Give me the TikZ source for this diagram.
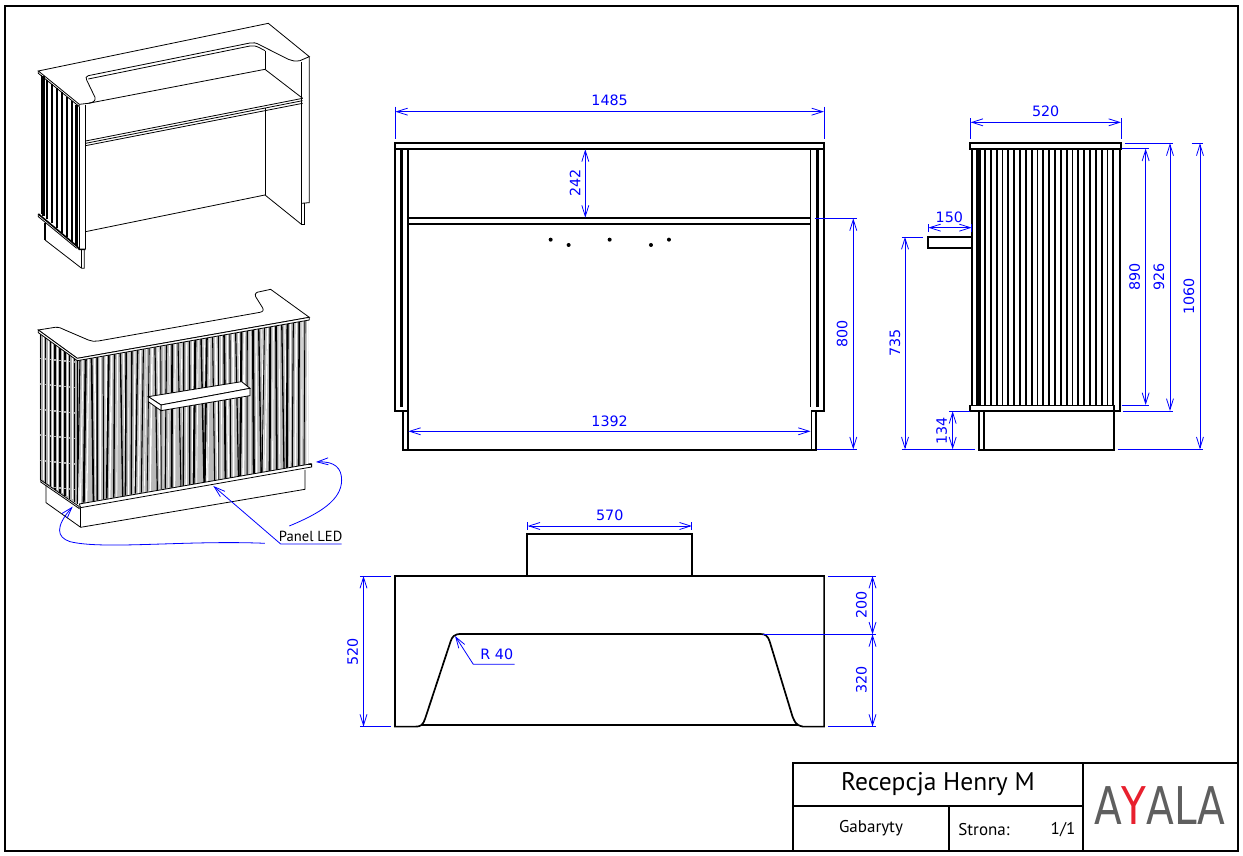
\documentclass[tikz,border=0pt]{standalone}
\usepackage{fontspec}
\setmainfont{DejaVu Sans}
\newfontfamily\labelfont{PT Sans}
\usetikzlibrary{arrows.meta}
\definecolor{logogray}{RGB}{95,95,95}
\definecolor{logored}{RGB}{232,32,46}
\tikzset{
  frameline/.style={line width=2pt},
  partline/.style={line width=1.7pt},
  isoline/.style={line width=.8pt},
  extline/.style={blue,line width=.8pt},
  dimline/.style={blue,line width=.8pt,{Straight Barb[length=11pt,width=7pt]}-{Straight Barb[length=11pt,width=7pt]}},
  leader/.style={blue,line width=.8pt,-{Straight Barb[length=11pt,width=7pt]}},
  dimtext/.style={blue,font=\fontsize{14.3}{14.3}\selectfont,inner sep=0pt},
  sidetext/.style={dimtext,rotate=90},
  slat/.style={line cap=butt}
}
\begin{document}
\begin{tikzpicture}[x=1pt,y=-1pt]
  \useasboundingbox[fill=white] (0,0) rectangle (1243,856);

  % Ramka i tabelka
  \draw[frameline] (5,6) rectangle (1237.5,850.5);
  \draw[frameline] (793,850.5) -- (793,763) -- (1237.5,763);
  \draw[frameline] (793,806) -- (1083,806);
  \draw[frameline] (1083,763) -- (1083,850.5);
  \draw[frameline] (949,806) -- (949,850.5);
  \node[font=\labelfont\fontsize{25.5}{25.5}\selectfont] (title) at (938,784) {Recepcja Henry M};
  \node[font=\labelfont\fontsize{17}{17}\selectfont] (subtitle) at (871,828.5) {Gabaryty};
  \node[font=\labelfont\fontsize{17}{17}\selectfont] (page) at (984,829.5) {Strona:};
  \node[font=\labelfont\fontsize{17}{17}\selectfont] (pagenr) at (1063,829.5) {1/1};
  \node[font=\fontsize{52}{52}\selectfont,xscale=.78,transform shape,text=logogray,inner sep=0pt] (logo) at (1160,806) {A\textcolor{logored}{Y}ALA};

  % Widok z przodu
  \begin{scope}[shift={(380,90)},xscale=.3333,yscale=.3333]
    \draw[partline] (46,158) rectangle (1332,178);
    \draw[partline] (46,178) -- (46,963) -- (82,963);
    \draw[partline] (85,178) -- (85,1080);
    \draw[line width=2.8pt] (65,178) -- (65,950);
    \draw[partline] (70,963) -- (70,1080) -- (1308,1080) -- (1308,963);
    \draw[partline] (85,383) -- (1292,383);
    \draw[partline] (85,401) -- (1292,401);
    \draw[partline] (1292,178) -- (1292,950);
    \draw[line width=2.8pt] (1312,178) -- (1312,950);
    \draw[partline] (1332,178) -- (1332,963) -- (1295,963) -- (1295,1080);
    \foreach \x/\y in {512/449,566/465,689/449,813/465,867/449}
      \fill (\x,\y) circle (6);
    % Wymiary
    \draw[extline] (46,50) -- (46,148);
    \draw[extline] (1332,50) -- (1332,148);
    \draw[dimline] (46,65) -- (1332,65);
    \node[dimtext] (d1485) at (689,31) {1485};
    \draw[dimline] (85,1024) -- (1292,1024);
    \node[dimtext] (d1392) at (689,993) {1392};
    \draw[dimline] (616,178) -- (616,383);
    \node[sidetext] (d242) at (585,280) {242};
    \draw[extline] (1305,385) -- (1430,385);
    \draw[extline] (1310,1078) -- (1430,1078);
    \draw[dimline] (1420,385) -- (1420,1078);
    \node[sidetext] (d800) at (1387,733) {800};
  \end{scope}

  % Widok z boku
  \begin{scope}[shift={(890,90)},xscale=.3333,yscale=.3333]
    \draw[partline] (240,160) rectangle (693,176);
    \draw[partline] (245,176) -- (245,947);
    \draw[partline] (690,176) -- (690,963) -- (672,963);
    \fill (258,176) rectangle (272,947);
    \foreach \x in {285,302.5,...,672}
      \draw[line width=1.7pt] (\x,176) -- (\x,947);
    \draw[partline] (240,947) rectangle (672,963);
    \draw[partline] (266,963) -- (266,1080) -- (672,1080) -- (672,963);
    \draw[partline] (283,963) -- (283,1080);
    \draw[partline] (245,441) -- (113,441) -- (113,473) -- (245,473);
    % Wymiary
    \draw[extline] (242,85) -- (242,148);
    \draw[extline] (693,85) -- (693,148);
    \draw[dimline] (242,97) -- (693,97);
    \node[dimtext] (d520a) at (467,65) {520};
    \draw[extline] (115,403) -- (115,425);
    \draw[extline] (245,403) -- (245,425);
    \draw[dimline] (115,413) -- (245,413);
    \node[dimtext] (d150) at (178,382) {150};
    \draw[extline] (35,441) -- (100,441);
    \draw[extline] (35,1078) -- (255,1078);
    \draw[dimline] (45,441) -- (45,1078);
    \node[sidetext] (d735) at (15,760) {735};
    \draw[extline] (178,964) -- (240,964);
    \draw[dimline] (188,964) -- (188,1078);
    \node[sidetext] (d134) at (155,1022) {134};
    \draw[extline] (695,176) -- (777,176);
    \draw[extline] (695,945) -- (777,945);
    \draw[dimline] (767,176) -- (767,945);
    \node[sidetext] (d890) at (734,561) {890};
    \draw[extline] (705,160) -- (850,160);
    \draw[extline] (698,963) -- (850,963);
    \draw[dimline] (840,160) -- (840,963);
    \node[sidetext] (d926) at (807,561) {926};
    \draw[extline] (905,160) -- (938,160);
    \draw[extline] (683,1078) -- (938,1078);
    \draw[dimline] (930,160) -- (930,1078);
    \node[sidetext] (d1060) at (897,619) {1060};
  \end{scope}

  % Widok z gory
  \begin{scope}[shift={(340,500)},xscale=.3508,yscale=.3333]
    \draw[partline] (157,680) -- (157,228) -- (1380,228) -- (1380,680) -- (1320,680)
      .. controls (1297,675) and (1297,665) .. (1290,650)
      -- (1225,425) .. controls (1218,405) and (1212,402) .. (1197,402)
      -- (345,402) .. controls (325,402) and (320,410) .. (315,425)
      -- (243,655) .. controls (237,675) and (230,680) .. (215,680) -- cycle;
    \draw[partline] (235,675) -- (1305,675);
    \draw[partline] (533,228) -- (533,101) -- (1003,101) -- (1003,228);
    % Wymiary
    \draw[extline] (535,67) -- (535,90);
    \draw[extline] (1003,67) -- (1003,90);
    \draw[dimline] (535,78) -- (1003,78);
    \node[dimtext] (d570) at (769,47) {570};
    \draw[extline] (57,228) -- (145,228);
    \draw[extline] (57,680) -- (145,680);
    \draw[dimline] (67,228) -- (67,680);
    \node[sidetext] (d520b) at (36,455) {520};
    \draw[extline] (1392,228) -- (1528,228);
    \draw[extline] (1205,403) -- (1528,403);
    \draw[extline] (1392,680) -- (1528,680);
    \draw[dimline] (1518,228) -- (1518,403);
    \node[sidetext] (d200) at (1486,315) {200};
    \draw[dimline] (1518,403) -- (1518,680);
    \node[sidetext] (d320) at (1486,541) {320};
    \draw[leader] (498,493) -- (380,493) -- (328,408);
    \node[dimtext] (r40) at (447,462) {R 40};
  \end{scope}

  % Widok izometryczny od tylu
  \begin{scope}[shift={(20,10)},xscale=.3333,yscale=.3333]
    \foreach \x/\w in {70/3.2,81/2,96/2,111/2,126/2,141/2,156/2,170/3}
      \draw[slat,line width=\w pt] (\x,{195+(\x-65)*.85}) -- (\x,{612+(\x-65)*.92});
    \draw[isoline] (65,195) -- (65,612);
    \draw[isoline] (55,183) -- (745,40) -- (868,140) -- (840,152)
      .. controls (825,155) and (815,152) .. (805,148) -- (720,105)
      .. controls (708,98) and (700,97) .. (690,99) -- (205,197)
      .. controls (198,199) and (196,204) .. (200,210) -- (225,262)
      .. controls (228,272) and (220,278) .. (205,280) -- (178,283) -- cycle;
    \draw[isoline] (55,183) -- (55,190) -- (178,290) -- (178,283);
    \draw[isoline] (205,207) -- (690,108) .. controls (700,106) and (708,108) .. (718,113) -- (735,122);
    \draw[isoline] (205,280) -- (735,178) -- (848,265);
    \draw[isoline] (197,393) -- (848,265);
    \draw[isoline] (197,400) -- (848,272);
    \draw[isoline] (197,407) -- (848,280);
    \draw[isoline] (735,122) -- (735,178);
    \draw[isoline] (735,295) -- (735,555);
    \draw[isoline] (197,665) -- (735,555) -- (843,642);
    \draw[isoline] (845,155) -- (845,580);
    \draw[isoline] (868,140) -- (868,578) -- (845,580);
    \draw[isoline] (843,580) -- (843,642) -- (852,642) -- (852,580);
    \draw[isoline] (178,290) -- (178,718);
    \draw[isoline] (197,285) -- (197,718);
    \draw[line width=1.6pt] (55,612) -- (170,708) -- (178,718) -- (197,718);
    \draw[isoline] (55,612) -- (55,620) -- (170,715);
    \draw[line width=1.4pt] (75,640) -- (75,690);
    \draw[isoline] (75,690) -- (185,775) -- (193,775) -- (193,720);
    \draw[isoline] (185,720) -- (185,775);
  \end{scope}

  % Widok izometryczny od przodu
  \begin{scope}[shift={(20,280)},xscale=.3333,yscale=.3333]
    % Lamele
    \fill[gray!55] (172,238) -- (865,118) -- (865,555) -- (180,672) -- cycle;
    \fill[gray!65] (60,160) -- (172,240) -- (172,672) -- (60,600) -- cycle;
    \pgfmathsetseed{42}
    \foreach \i in {0,...,39} {
      \pgfmathsetmacro{\xa}{180+17.3*\i}
      \pgfmathsetmacro{\ya}{238-(\xa-172)*.172}
      \pgfmathsetmacro{\yb}{672-(\xa-172)*.171}
      \pgfmathsetmacro{\wa}{.8+1.3*rnd}
      \pgfmathsetmacro{\wb}{.7+1.0*rnd}
      \pgfmathsetmacro{\da}{-9+rnd*18}
      \draw[slat,black,line width=\wa pt] (\xa,\ya) -- (\xa+\da,\yb);
      \draw[slat,white,line width=\wb pt] (\xa+9,\ya) -- (\xa+9+\da,\yb);
    }
    \foreach \i in {0,...,7} {
      \pgfmathsetmacro{\xa}{62+14.5*\i}
      \pgfmathsetmacro{\ya}{160+(\xa-60)*.72}
      \pgfmathsetmacro{\yb}{600+(\xa-60)*.64}
      \draw[slat,black,line width=1.6pt,dash pattern=on 24pt off 1.5pt,dash phase=\i*3pt] (\xa,\ya) -- (\xa,\yb);
      \draw[slat,white,line width=.5pt] (\xa+7,\ya) -- (\xa+7,\yb);
    }
    % Blat
    \draw[isoline,fill=white] (55,150) -- (105,142) .. controls (118,141) and (125,145) .. (135,150)
      -- (205,180) .. controls (215,184) and (225,185) .. (235,183) -- (720,97)
      .. controls (730,95) and (732,90) .. (727,82) -- (707,50)
      .. controls (703,40) and (710,36) .. (720,35) -- (752,28) -- (868,112) -- (172,235) -- cycle;
    \draw[isoline,fill=white] (55,150) -- (55,158) -- (172,242) -- (868,120) -- (868,112) -- (172,235) -- cycle;
    \draw[line width=1.4pt] (172,240) -- (172,672);
    % Polka
    \draw[isoline,fill=white] (385,350) -- (665,305) -- (690,325) -- (423,375) -- cycle;
    \draw[isoline,fill=white] (423,375) -- (423,392) -- (690,347) -- (690,325) -- cycle;
    \draw[isoline,fill=white] (385,350) -- (385,365) -- (423,392) -- (423,375) -- cycle;
    % Listwa i cokol
    \draw[isoline,fill=white] (178,672) -- (865,553) -- (875,552) -- (875,561) -- (182,683) -- cycle;
    \draw[line width=1.4pt] (865,553) -- (875,552);
    \draw[isoline,fill=white] (62,600) -- (178,680) -- (178,686) -- (62,606) -- cycle;
    \draw[isoline] (78,615) -- (78,668) -- (182,742) -- (855,628) -- (855,570);
    \draw[isoline] (182,685) -- (182,742);
    % Opis
    \draw[leader] (965,792) -- (782,792) -- (580,618);
    \node[font=\labelfont\fontsize{14.6}{14.6}\selectfont,inner sep=0pt] (ledlabel) at (872,768) {Panel LED};
    \draw[leader] (808,738) .. controls (900,700) and (965,660) .. (965,600)
      .. controls (965,565) and (945,543) .. (888,546);
    \draw[leader] (735,790) .. controls (500,780) and (250,810) .. (150,785)
      .. controls (110,772) and (105,740) .. (158,680);
  \end{scope}
\end{tikzpicture}
\end{document}
